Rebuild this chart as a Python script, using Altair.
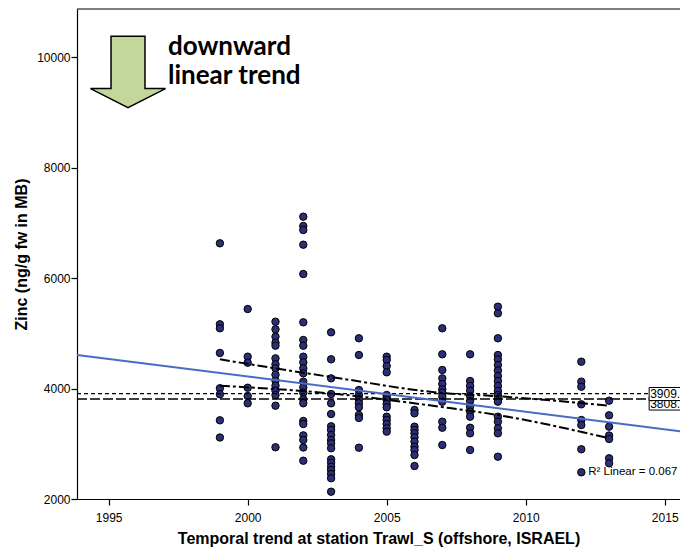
import altair as alt
import pandas as pd

# ---- data ----
years = [1999, 2000, 2001, 2002, 2003, 2004, 2005, 2006, 2007, 2008, 2009, 2012, 2013]

zinc_1999 = [6628, 5162, 5090, 4643, 4004, 3895, 3424, 3113]
zinc_2000 = [5439, 4576, 4467, 4014, 3864, 3732]
zinc_2001 = [5209, 5071, 4938, 4829, 4775, 4546, 4438, 4366, 4250, 4141, 4051, 3960, 3882, 3689, 2936]
zinc_2002 = [7110, 6941, 6869, 6603, 6072, 5198, 4878, 4775, 4576, 4474, 4366, 4275, 4124, 4021,
             3924, 3804, 3732, 3412, 3357, 3152, 3068, 2932, 2693]
zinc_2003 = [5017, 4528, 4184, 3900, 3732, 3538, 3316, 3249, 3158, 3068, 3008, 2918, 2719, 2657,
             2585, 2525, 2452, 2375, 2132]
zinc_2004 = [4909, 4606, 3973, 3882, 3804, 3732, 3660, 3520, 3466, 2929]
zinc_2005 = [4576, 4516, 4407, 4293, 3882, 3841, 3792, 3719, 3660, 3490, 3430, 3357, 3279, 3219]
zinc_2006 = [3611, 3551, 3309, 3249, 3189, 3117, 3037, 2947, 2887, 2796, 2597]
zinc_2007 = [5090, 4619, 4335, 4184, 4081, 3986, 3924, 3852, 3761, 3399, 3290, 2977]
zinc_2008 = [4619, 4136, 4045, 3960, 3864, 3774, 3671, 3580, 3490, 3290, 3189, 2887]
zinc_2009 = [5481, 5361, 4909, 4606, 4525, 4425, 4326, 4226, 4136, 4045, 3955, 3882, 3810, 3761,
             3490, 3399, 3279, 3189, 2766]
zinc_2012 = [4485, 4124, 4033, 3714, 3430, 3339, 2900, 2483]
zinc_2013 = [3779, 3515, 3309, 3149, 3086, 2737, 2646]

zinc_by_year = [zinc_1999, zinc_2000, zinc_2001, zinc_2002, zinc_2003, zinc_2004, zinc_2005,
                zinc_2006, zinc_2007, zinc_2008, zinc_2009, zinc_2012, zinc_2013]

# 95% confidence band of the mean
ci_years = [1999.0, 2003.3, 2006.9, 2009.0, 2013.0]
ci_upper = [4528, 4185, 3924, 3860, 3689]
ci_lower = [4051, 3895, 3671, 3520, 3099]

# reference lines with their labels
ref_values = [3909, 3808]
ref_labels = ["3909.", "3808."]

r2_label = "R\u00b2 Linear = 0.067"
x_ticks = [1995, 2000, 2005, 2010, 2015]
y_ticks = [2000, 4000, 6000, 8000, 10000]

# ---- tables ----
df = pd.DataFrame([{"year": y, "zinc": v} for y, vals in zip(years, zinc_by_year) for v in vals])
ci_up_df = pd.DataFrame({"year": ci_years, "zinc": ci_upper})
ci_lo_df = pd.DataFrame({"year": ci_years, "zinc": ci_lower})

X_DOMAIN = [1993.86, 2015.55]
Y_DOMAIN = [2000, 10869]
REF_END = 2014.44
BOX_END = 2016.5

ref_df = pd.DataFrame({
    "value": ref_values,
    "label": ref_labels,
    "start": [X_DOMAIN[0]] * 2,
    "end": [REF_END] * 2,
    "box_end": [BOX_END] * 2,
    "center": [ref_values[0] - 9, ref_values[1] - 80],
})
ref_df["lo"] = ref_df["center"] - 118
ref_df["hi"] = ref_df["center"] + 118

xs = alt.Scale(domain=X_DOMAIN, nice=False, zero=False)
ys = alt.Scale(domain=Y_DOMAIN, nice=False, zero=False)

x_axis = alt.Axis(values=x_ticks, format="d", grid=False, tickSize=6, labelPadding=7,
                  titlePadding=7, title="Temporal trend at station Trawl_S (offshore, ISRAEL)")
y_axis = alt.Axis(values=y_ticks, format="d", grid=False, tickSize=6, labelPadding=1,
                  titlePadding=7, title="Zinc (ng/g fw in MB)")


def X(field):
    return alt.X(field, scale=xs, axis=x_axis)


def Y(field):
    return alt.Y(field, scale=ys, axis=y_axis)


points = alt.Chart(df).mark_point(
    shape="circle", size=55, filled=True, fill="#2a2f78", stroke="black",
    strokeWidth=1, opacity=1, fillOpacity=1
).encode(x=X("year:Q"), y=Y("zinc:Q"))

fit = alt.Chart(df).transform_regression(
    "year", "zinc", extent=X_DOMAIN
).mark_line(color="#4a6cc4", strokeWidth=2).encode(x=X("year:Q"), y=Y("zinc:Q"))

dashdot = [10, 3, 3, 3]
ci_up = alt.Chart(ci_up_df).mark_line(color="black", strokeWidth=2, strokeDash=dashdot,
                                      interpolate="monotone").encode(x=X("year:Q"), y=Y("zinc:Q"))
ci_lo = alt.Chart(ci_lo_df).mark_line(color="black", strokeWidth=2, strokeDash=dashdot,
                                      interpolate="monotone").encode(x=X("year:Q"), y=Y("zinc:Q"))

ref1 = alt.Chart(ref_df.iloc[[0]]).mark_rule(color="black", strokeWidth=1.2, strokeDash=[4, 3]).encode(
    x=X("start:Q"), x2="end:Q", y=Y("value:Q"))
ref2 = alt.Chart(ref_df.iloc[[1]]).mark_rule(color="black", strokeWidth=1.5, strokeDash=[10, 3]).encode(
    x=X("start:Q"), x2="end:Q", y=Y("value:Q"))


def label_box(i):
    d = ref_df.iloc[[i]]
    box = alt.Chart(d).mark_rect(fill="white", stroke="black", strokeWidth=1).encode(
        x=X("end:Q"), x2="box_end:Q", y=Y("lo:Q"), y2="hi:Q")
    txt = alt.Chart(d).mark_text(align="left", baseline="middle", dx=1, fontSize=12,
                                 font="Liberation Sans", color="black").encode(
        x=X("end:Q"), y=Y("center:Q"), text="label:N")
    return box + txt


r2 = alt.Chart(pd.DataFrame({"year": [2012.25], "zinc": [2480], "t": [r2_label]})).mark_text(
    align="left", baseline="middle", fontSize=11.5, font="Liberation Sans", color="black").encode(
    x=X("year:Q"), y=Y("zinc:Q"), text="t:N")

one = pd.DataFrame({"a": [0]})
arrow_path = "M -0.453 -0.952 L 0.453 -0.952 L 0.453 0.443 L 1 0.443 L 0 0.949 L -1 0.443 L -0.453 0.443 Z"
arrow = alt.Chart(one).mark_point(shape=arrow_path, size=5625, filled=True, fill="#c4d79b",
                                  stroke="black", strokeWidth=1.5, opacity=1, fillOpacity=1).encode(
    x=alt.value(51), y=alt.value(63))
t1 = alt.Chart(one).mark_text(align="left", baseline="alphabetic", font="Lato", fontWeight="bold",
                              fontSize=26, color="black").encode(
    x=alt.value(91), y=alt.value(46), text=alt.value("downward"))
t2 = alt.Chart(one).mark_text(align="left", baseline="alphabetic", font="Lato", fontWeight="bold",
                              fontSize=26, color="black").encode(
    x=alt.value(91), y=alt.value(75), text=alt.value("linear trend"))

top = alt.Chart(one).mark_rule(color="black", strokeWidth=1.2).encode(
    x=alt.value(0), x2=alt.value(603), y=alt.value(0))

chart = alt.layer(
    points, ref1, ref2, ci_up, ci_lo, fit,
    label_box(1), label_box(0), r2, arrow, t1, t2, top
).properties(
    width=603, height=490,
    padding={"left": 69, "right": 0, "top": 1, "bottom": 49},
    autosize=alt.AutoSizeParams(type="none"),
).configure_view(stroke=None).configure_axis(
    labelFont="Liberation Sans", labelFontSize=12, labelColor="black",
    titleFont="Liberation Sans", titleFontSize=16, titleFontWeight="bold", titleColor="black",
    domainColor="black", domainWidth=1.2, tickColor="black", tickWidth=1.2,
)

chart.save("out.html", embed_options={"renderer": "svg", "actions": False})
